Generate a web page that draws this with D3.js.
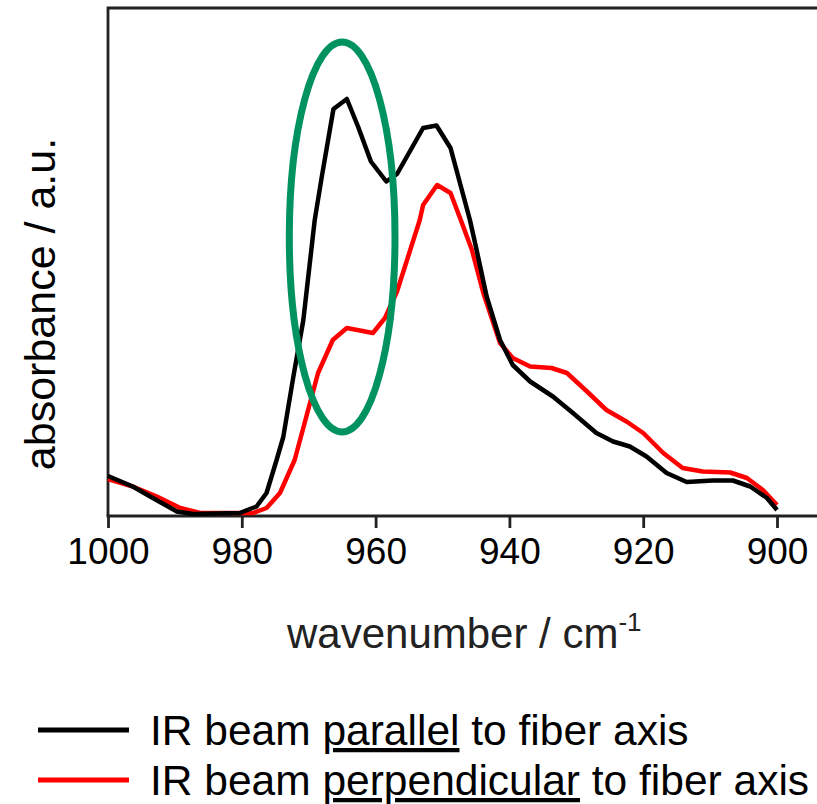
<!DOCTYPE html>
<html>
<head>
<meta charset="utf-8">
<script src="https://cdn.jsdelivr.net/npm/d3@7/dist/d3.min.js"></script>
<style>
  html, body { margin: 0; padding: 0; background: #fff; }
  svg { display: block; font-family: "Liberation Sans", Arial, sans-serif; }
</style>
</head>
<body>
<svg id="chart" width="817" height="804"></svg>
<script>
// ---- data ----
const xTicks = [1000, 980, 960, 940, 920, 900];

const parallelWn = [1000, 996.3, 993.3, 989.7, 987.3, 980.3, 977.8, 976.3, 974.8, 973.8, 972.3, 970.8, 969.1, 968.0, 966.3, 964.3, 962.6, 960.7, 958.4, 956.8, 952.9, 950.9, 948.8, 945.9, 944.9, 943.4, 941.4, 939.5, 936.9, 933.5, 930.5, 927.0, 924.5, 922.0, 919.5, 916.5, 913.5, 909.6, 906.6, 904.0, 901.5, 900.0];
const parallelAbs = [7.6, 5.5, 3.2, 0.5, 0.0, 0.2, 1.5, 4.2, 10.8, 15.4, 27.4, 38.8, 58.8, 67.8, 81.0, 83.0, 77.4, 70.5, 66.5, 68.0, 77.2, 77.7, 73.2, 58.8, 52.8, 43.5, 34.8, 29.8, 26.5, 23.5, 20.2, 16.2, 14.5, 13.5, 11.5, 8.2, 6.4, 6.7, 6.7, 5.5, 3.2, 0.8];

const perpWn = [1000, 996.3, 992.7, 989.2, 986.2, 978.3, 976.3, 974.3, 972.1, 968.6, 966.4, 964.3, 960.4, 958.6, 956.8, 953.4, 952.9, 950.8, 948.8, 947.1, 945.6, 943.9, 941.4, 939.5, 936.9, 933.7, 931.4, 928.4, 925.5, 922.5, 920.0, 917.0, 914.1, 911.1, 907.0, 904.5, 902.1, 900.0];
const perpAbs = [7.0, 5.5, 3.5, 1.2, 0.2, 0.2, 1.2, 4.2, 10.8, 28.2, 34.8, 37.2, 36.2, 39.2, 44.5, 58.8, 61.8, 65.8, 64.2, 58.2, 52.8, 44.2, 34.2, 31.2, 29.5, 29.2, 28.2, 24.5, 20.8, 18.5, 16.2, 12.2, 9.2, 8.5, 8.3, 7.2, 4.8, 1.8];

// highlighted region (ellipse): centre wavenumber/absorbance and half-extents
const highlight = { wn: 965, abs: 55.4, halfWn: 7.9, halfAbs: 39 };

const seriesNames = ["parallel", "perpendicular"];
const seriesColors = ["#000000", "#ff0000"];

// ---- layout ----
const svg = d3.select("#chart");
const mLeft = 108, mTop = 8, mBottom = 516, plotRight = 777;

const x = d3.scaleLinear().domain([1000, 900]).range([mLeft, plotRight]);
const y = d3.scaleLinear().domain([-0.4, 101.2]).range([mBottom, mTop]);

// frame (box extends beyond the right edge)
svg.append("path")
  .attr("d", `M${mLeft},${mBottom} L${mLeft},${mTop} L${830},${mTop}`)
  .attr("fill", "none").attr("stroke", "#222").attr("stroke-width", 2.8);

// x axis
const xAxis = d3.axisBottom(x).tickValues(xTicks).tickSize(12).tickSizeOuter(0).tickFormat(d3.format("d"));
const gx = svg.append("g").attr("transform", `translate(0,${mBottom})`).call(xAxis);
gx.select(".domain").remove();
gx.append("line").attr("x1", mLeft - 1.4).attr("x2", 830).attr("y1", 0).attr("y2", 0)
  .attr("stroke", "#222").attr("stroke-width", 2.8);
gx.selectAll(".tick line").attr("stroke", "#222").attr("stroke-width", 2.8);
gx.selectAll(".tick text")
  .attr("y", 48).attr("dy", null)
  .attr("font-size", 37).attr("fill", "#000")
  .attr("font-family", '"Liberation Sans", Arial, sans-serif');

// lines
const line = d3.line().x(d => x(d[0])).y(d => y(d[1])).curve(d3.curveLinear);
const parallel = parallelWn.map((w, i) => [w, parallelAbs[i]]);
const perp = perpWn.map((w, i) => [w, perpAbs[i]]);

svg.append("path").datum(perp)
  .attr("d", line).attr("fill", "none").attr("stroke", seriesColors[1])
  .attr("stroke-width", 4.5).attr("stroke-linejoin", "round");
svg.append("path").datum(parallel)
  .attr("d", line).attr("fill", "none").attr("stroke", seriesColors[0])
  .attr("stroke-width", 4.5).attr("stroke-linejoin", "round");

// green ellipse
svg.append("ellipse")
  .attr("cx", x(highlight.wn)).attr("cy", y(highlight.abs))
  .attr("rx", Math.abs(x(highlight.wn - highlight.halfWn) - x(highlight.wn)))
  .attr("ry", Math.abs(y(highlight.abs + highlight.halfAbs) - y(highlight.abs)))
  .attr("fill", "none").attr("stroke", "#00925f").attr("stroke-width", 7);

// axis titles
const xt = svg.append("text").attr("x", 287).attr("y", 648).attr("font-size", 42).attr("fill", "#222");
xt.append("tspan").text("wavenumber / cm");
xt.append("tspan").attr("font-size", 26).attr("dy", -17).text("-1");

svg.append("text")
  .attr("transform", `translate(55,304) rotate(-90)`)
  .attr("text-anchor", "middle").attr("font-size", 43).attr("fill", "#000")
  .text("absorbance / a.u.");

// legend
const legend = svg.append("g");
const rows = [
  { y: 745, lineY: 730, pre: "IR beam ", und: "parallel", post: " to fiber axis" },
  { y: 795, lineY: 780, pre: "IR beam ", und: "perpendicular", post: " to fiber axis" }
];
rows.forEach((r, i) => {
  legend.append("line").attr("x1", 38).attr("x2", 129).attr("y1", r.lineY).attr("y2", r.lineY)
    .attr("stroke", seriesColors[i]).attr("stroke-width", 5);
  const t = legend.append("text").attr("x", 150).attr("y", r.y).attr("font-size", 42.5).attr("fill", "#000");
  t.append("tspan").text(r.pre);
  t.append("tspan").attr("text-decoration", "underline").text(r.und);
  t.append("tspan").text(r.post);
});
</script>
</body>
</html>
